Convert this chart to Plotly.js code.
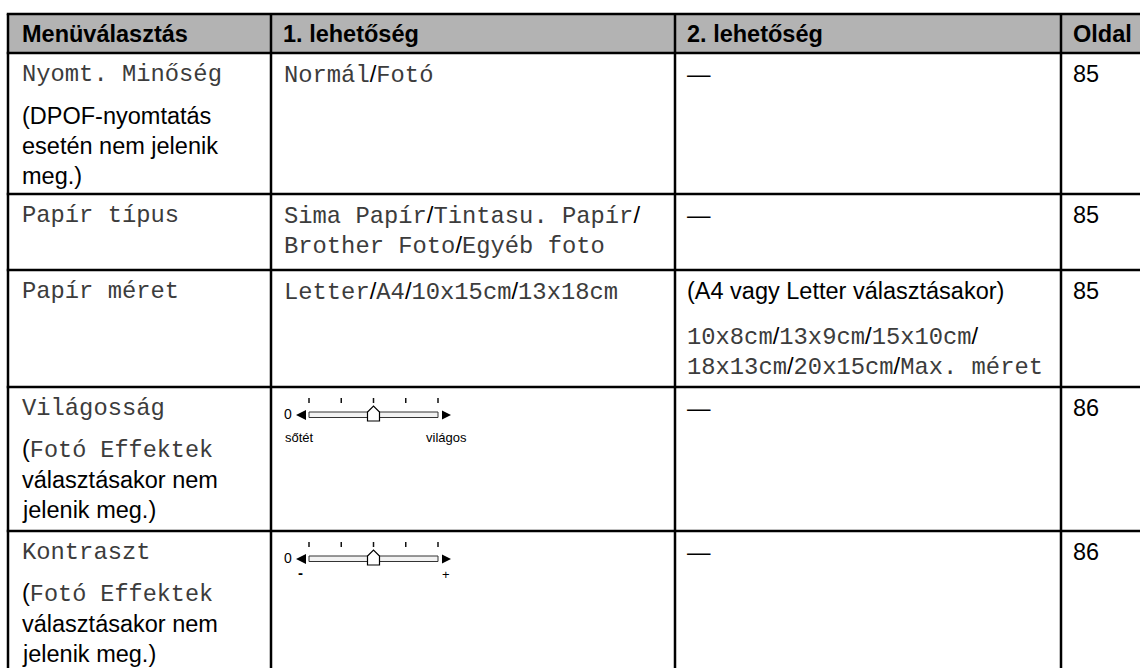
<!DOCTYPE html>
<html>
<head>
<meta charset="utf-8">
<script src="https://cdn.plot.ly/plotly-3.0.1.min.js"></script>
<style>html,body{margin:0;padding:0;background:#fff;}#chart{width:1140px;height:668px;}</style>
</head>
<body>
<div id="chart"></div>
<script>
// ---- table content ----
const headers = ["Menüválasztás", "1. lehetőség", "2. lehetőség", "Oldal"];
const menuItems = ["Nyomt. Minőség", "Papír típus", "Papír méret", "Világosság", "Kontraszt"];
const menuNotes = [
  ["(DPOF-nyomtatás", "esetén nem jelenik", "meg.)"],
  [],
  [],
  ["(`Fotó Effektek`", "választásakor nem", "jelenik meg.)"],
  ["(`Fotó Effektek`", "választásakor nem", "jelenik meg.)"]
];
const option1 = [
  ["Normál/Fotó"],
  ["Sima Papír/Tintasu. Papír/", "Brother Foto/Egyéb foto"],
  ["Letter/A4/10x15cm/13x18cm"],
  [],
  []
];
const sliderRows = [false, false, false, true, true];
const sliderZero = "0";
const sliderLow = ["", "", "", "sőtét", "-"];
const sliderHigh = ["", "", "", "világos", "+"];
const sliderSteps = [0, 1, 2, 3, 4];
const sliderKnob = 2;
const option2Text = ["—", "—", "(A4 vagy Letter választásakor)", "—", "—"];
const option2Mono = [
  [],
  [],
  ["10x8cm/13x9cm/15x10cm/", "18x13cm/20x15cm/Max. méret"],
  [],
  []
];
const pages = ["85", "85", "85", "86", "86"];

// ---- layout constants (pixels) ----
const W = 1140, H = 668;
const colX = [8, 271, 675, 1061];
const tableTop = 14, headerBottom = 53;
const rowBottoms = [194, 270, 387, 531, 668];
const rowTops = [headerBottom].concat(rowBottoms.slice(0, -1));
const padX = 11, firstOff = 21, lineStep = 30, paraStep = 42;
const SANS = "Liberation Sans, Arial, sans-serif";
const MONO = "Liberation Mono, Courier New, monospace";
const FS = 23.5, FM = 23.8;
const MONO_COLOR = "#3c3c3c";

function monoFmt(s) {
  return s.replace(/\//g, '<span style="font-family:Liberation Sans,Arial,sans-serif;color:#000">/</span>');
}
function noteFmt(s) {
  return s.replace(/`([^`]*)`/g, '<span style="font-family:Liberation Mono,Courier New,monospace;color:#3c3c3c">$1</span>');
}

const annotations = [];
function addText(x, y, text, family, size, color, opts) {
  annotations.push(Object.assign({
    x: x, y: y, xref: "x", yref: "y", text: text, showarrow: false,
    xanchor: "left", yanchor: "middle", borderpad: 0,
    font: {family: family, size: size, color: color}
  }, opts || {}));
}

// header
const headerY = (tableTop + headerBottom) / 2;
headers.forEach((h, i) => addText(colX[i] + padX + (i === 0 ? 2 : 0), headerY, "<b>" + h + "</b>", SANS, FS, "#000"));

const shapes = [];
shapes.push({type: "rect", xref: "x", yref: "y", x0: colX[0], x1: W + 5, y0: tableTop, y1: headerBottom,
  fillcolor: "#b3b3b3", line: {width: 0}, layer: "below"});

menuItems.forEach((item, r) => {
  const top = rowTops[r];
  const y0 = top + firstOff;
  // column 0
  addText(colX[0] + padX + 2, y0, item, MONO, FM, MONO_COLOR);
  menuNotes[r].forEach((ln, k) => addText(colX[0] + padX + 2, y0 + paraStep + k * lineStep, noteFmt(ln), SANS, FS, "#000"));
  // column 1
  option1[r].forEach((ln, k) => addText(colX[1] + padX + 1, y0 + k * lineStep, monoFmt(ln), MONO, FM, MONO_COLOR));
  if (sliderRows[r]) {
    const cy = top + 28;
    const x0 = 309, x1 = 438;
    const step = (x1 - x0) / (sliderSteps.length - 1);
    addText(288, cy - 1, sliderZero, SANS, 14, "#000", {xanchor: "center"});
    // left arrow
    shapes.push({type: "path", xref: "x", yref: "y", path: `M296,${cy} L306,${cy - 5} L306,${cy + 5} Z`,
      fillcolor: "#000", line: {width: 0}});
    // right arrow
    shapes.push({type: "path", xref: "x", yref: "y", path: `M451,${cy} L442,${cy - 4.5} L442,${cy + 4.5} Z`,
      fillcolor: "#000", line: {width: 0}});
    // track
    shapes.push({type: "rect", xref: "x", yref: "y", x0: x0, x1: x1, y0: cy - 3, y1: cy + 2.5,
      fillcolor: "#f2f2f2", line: {color: "#333", width: 1}});
    // ticks
    sliderSteps.forEach(s => {
      const tx = x0 + s * step;
      shapes.push({type: "line", xref: "x", yref: "y", x0: tx, x1: tx, y0: cy - 17, y1: cy - 12,
        line: {color: "#111", width: 1.5}});
    });
    // knob
    const kx = x0 + sliderKnob * step;
    shapes.push({type: "path", xref: "x", yref: "y",
      path: `M${kx - 6},${cy + 6} L${kx - 6},${cy - 3} L${kx},${cy - 9} L${kx + 6},${cy - 3} L${kx + 6},${cy + 6} Z`,
      fillcolor: "#fff", line: {color: "#000", width: 1.2}});
    if (r === 3) {
      addText(284, cy + 22, sliderLow[r], SANS, 13, "#000");
      addText(468, cy + 22, sliderHigh[r], SANS, 13, "#000", {xanchor: "right"});
    } else {
      addText(300, cy + 13, "<b>" + sliderLow[r] + "</b>", SANS, 15, "#000", {xanchor: "center"});
      addText(446, cy + 15, sliderHigh[r], SANS, 13, "#000", {xanchor: "center"});
    }
  }
  // column 2
  addText(colX[2] + padX, y0, option2Text[r], SANS, FS, "#000");
  option2Mono[r].forEach((ln, k) => addText(colX[2] + padX, y0 + paraStep + k * lineStep + 3, monoFmt(ln), MONO, FM, MONO_COLOR));
  // column 3
  addText(colX[3] + padX, y0, pages[r], SANS, FS, "#000");
});

// grid lines
const LW = 2.5;
[tableTop, headerBottom].concat(rowBottoms.slice(0, -1)).forEach(y => {
  shapes.push({type: "line", xref: "x", yref: "y", x0: colX[0] - LW / 2, x1: W + 5, y0: y, y1: y, line: {color: "#000", width: LW}});
});
colX.forEach(x => {
  shapes.push({type: "line", xref: "x", yref: "y", x0: x, x1: x, y0: tableTop, y1: H + 5, line: {color: "#000", width: LW}});
});

const data = [{x: [0], y: [0], type: "scatter", mode: "markers", marker: {opacity: 0}, hoverinfo: "skip", showlegend: false}];
const layout = {
  width: W, height: H,
  margin: {l: 0, r: 0, t: 0, b: 0, pad: 0},
  paper_bgcolor: "#fff", plot_bgcolor: "#fff",
  xaxis: {range: [0, W], visible: false, fixedrange: true},
  yaxis: {range: [H, 0], visible: false, fixedrange: true},
  showlegend: false,
  shapes: shapes,
  annotations: annotations
};
Plotly.newPlot("chart", data, layout, {displayModeBar: false, staticPlot: true});
</script>
</body>
</html>
